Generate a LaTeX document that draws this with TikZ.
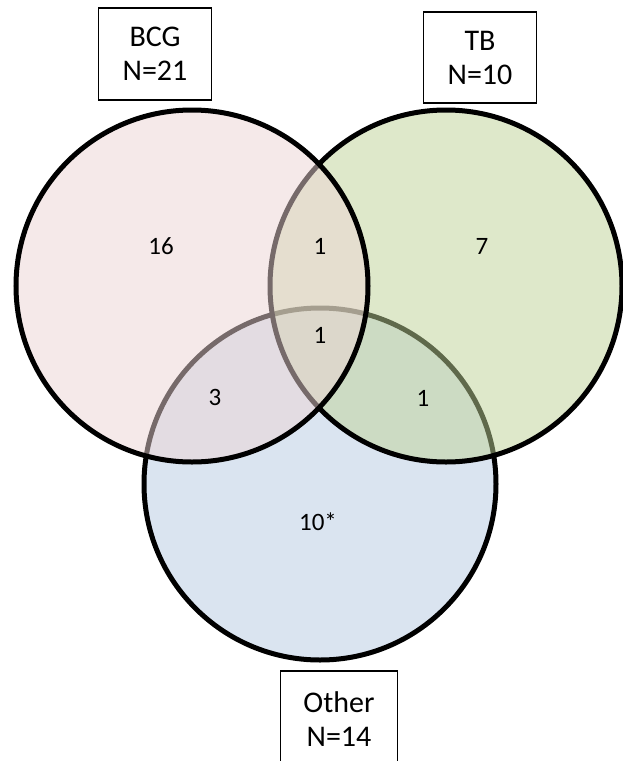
\documentclass[tikz,border=0pt]{standalone}
\usepackage{fontspec}
\setmainfont{Carlito}
\definecolor{pinkc}{RGB}{236,212,212}
\definecolor{greenc}{RGB}{190,210,150}
\definecolor{bluec}{RGB}{182,201,226}
\begin{document}
\begin{tikzpicture}[x=1pt,y=-1pt,
  setc/.style={circle,draw=black,line width=5pt,inner sep=0pt,minimum size=352pt,fill opacity=0.5,draw opacity=1},
  countlbl/.style={font=\fontsize{25}{30}\selectfont,inner sep=0pt},
  namebox/.style={draw=black,line width=1.6pt,inner sep=0pt,align=center,font=\fontsize{30}{34}\selectfont}]
\useasboundingbox (0,0) rectangle (623,761);
\clip (0,0) rectangle (623,761);
\node[setc,fill=bluec] (other) at (320,484) {};
\node[setc,fill=greenc] (tb) at (446,286) {};
\node[setc,fill=pinkc] (bcg) at (192,286) {};
% counts
\node[countlbl] (n16) at (161,246) {16};
\node[countlbl] (n1a) at (320,246) {1};
\node[countlbl] (n7) at (482,246) {7};
\node[countlbl] (n1b) at (320,335) {1};
\node[countlbl] (n3) at (215,397) {3};
\node[countlbl] (n1c) at (423,398) {1};
\node[countlbl] (n10) at (318,522) {10*};
% boxes
\node[namebox,minimum width=113pt,minimum height=92pt] (bcgbox) at (155,54) {BCG\\N=21};
\node[namebox,minimum width=113pt,minimum height=91pt] (tbbox) at (480,57.5) {TB\\N=10};
\node[namebox,minimum width=117pt,minimum height=120pt,anchor=north] (otherbox) at (339,670) {};
\node[font=\fontsize{30}{34}\selectfont,align=center,inner sep=0pt] (othertxt) at (339,719) {Other\\N=14};
\end{tikzpicture}
\end{document}
